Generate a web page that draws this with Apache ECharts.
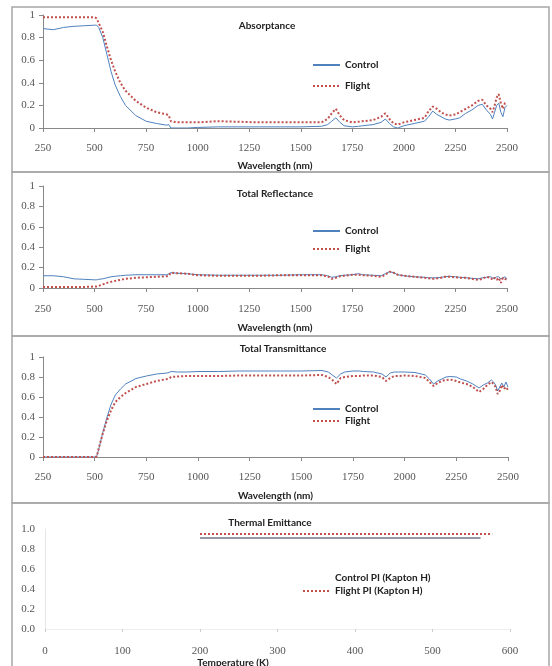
<!DOCTYPE html>
<html>
<head>
<meta charset="utf-8">
<script src="https://cdn.jsdelivr.net/npm/echarts@6/dist/echarts.min.js"></script>
<style>html,body{margin:0;padding:0;background:#fff;}#c{width:552px;height:666px;}</style>
</head>
<body>
<div id="c"></div>
<script>
// Wavelength sample points (nm)
const wavelength = [250,300,350,400,450,500,510,520,540,560,580,600,625,650,700,750,800,850,860,870,900,950,1000,1100,1200,1300,1400,1500,1600,1630,1650,1670,1690,1710,1750,1780,1800,1850,1890,1910,1930,1950,1970,2000,2050,2100,2120,2140,2160,2180,2200,2220,2250,2270,2300,2330,2360,2380,2400,2420,2430,2440,2450,2460,2470,2480,2490,2500];

const absControl = [0.88,0.87,0.89,0.90,0.905,0.91,0.91,0.89,0.80,0.65,0.50,0.38,0.28,0.20,0.11,0.06,0.04,0.025,0.03,0.0,0.0,0.0,0.005,0.01,0.01,0.01,0.01,0.01,0.015,0.03,0.06,0.09,0.05,0.02,0.01,0.015,0.02,0.03,0.05,0.08,0.04,0.01,0.0,0.02,0.04,0.06,0.10,0.15,0.12,0.10,0.08,0.07,0.08,0.09,0.13,0.16,0.20,0.21,0.16,0.12,0.08,0.14,0.20,0.22,0.14,0.10,0.18,0.20];
const absFlight = [0.98,0.98,0.98,0.98,0.98,0.98,0.97,0.93,0.85,0.72,0.60,0.50,0.40,0.33,0.24,0.18,0.14,0.12,0.11,0.06,0.05,0.05,0.05,0.06,0.055,0.05,0.05,0.05,0.05,0.08,0.13,0.17,0.11,0.07,0.05,0.055,0.06,0.07,0.10,0.13,0.08,0.04,0.03,0.05,0.07,0.09,0.15,0.19,0.17,0.14,0.12,0.11,0.12,0.14,0.17,0.20,0.24,0.25,0.20,0.17,0.14,0.20,0.27,0.30,0.22,0.17,0.22,0.23];

const refControl = [0.12,0.12,0.11,0.09,0.085,0.08,0.08,0.085,0.09,0.10,0.11,0.115,0.12,0.125,0.13,0.13,0.13,0.13,0.14,0.15,0.145,0.14,0.13,0.125,0.125,0.125,0.125,0.13,0.13,0.12,0.105,0.11,0.12,0.125,0.13,0.14,0.13,0.125,0.12,0.14,0.16,0.15,0.13,0.12,0.11,0.105,0.10,0.10,0.10,0.105,0.11,0.115,0.11,0.105,0.10,0.095,0.09,0.10,0.105,0.11,0.10,0.09,0.11,0.11,0.09,0.10,0.11,0.09];
const refFlight = [0.01,0.01,0.01,0.01,0.01,0.015,0.015,0.02,0.035,0.05,0.06,0.07,0.08,0.09,0.10,0.105,0.11,0.115,0.12,0.15,0.145,0.14,0.125,0.12,0.12,0.12,0.125,0.125,0.125,0.115,0.09,0.10,0.115,0.12,0.13,0.13,0.125,0.12,0.11,0.13,0.16,0.15,0.13,0.12,0.11,0.10,0.095,0.09,0.095,0.10,0.11,0.11,0.105,0.10,0.10,0.09,0.08,0.09,0.11,0.10,0.08,0.10,0.08,0.10,0.05,0.10,0.09,0.08];

const traControl = [0,0,0,0,0,0,0.005,0.08,0.25,0.40,0.53,0.62,0.68,0.73,0.785,0.81,0.83,0.84,0.845,0.855,0.85,0.85,0.855,0.855,0.86,0.86,0.86,0.86,0.865,0.85,0.82,0.79,0.83,0.85,0.86,0.86,0.855,0.85,0.83,0.80,0.84,0.85,0.85,0.85,0.845,0.82,0.78,0.73,0.76,0.78,0.80,0.805,0.80,0.78,0.76,0.73,0.69,0.72,0.74,0.77,0.75,0.72,0.66,0.70,0.74,0.70,0.75,0.70];
const traFlight = [0,0,0,0,0,0,0.005,0.09,0.24,0.37,0.47,0.55,0.60,0.64,0.70,0.73,0.76,0.78,0.785,0.80,0.805,0.81,0.81,0.81,0.815,0.815,0.815,0.815,0.82,0.80,0.77,0.73,0.79,0.80,0.81,0.81,0.815,0.815,0.80,0.76,0.79,0.81,0.81,0.815,0.81,0.79,0.75,0.71,0.74,0.76,0.77,0.775,0.76,0.745,0.73,0.70,0.65,0.68,0.72,0.75,0.73,0.70,0.63,0.66,0.72,0.68,0.70,0.67];

// Thermal emittance vs temperature (K)
const tempControl = [200,300,400,500,562];
const emitControl = [0.91,0.91,0.91,0.91,0.91];
const tempFlight = [200,300,400,500,577];
const emitFlight = [0.95,0.95,0.95,0.95,0.95];

const pairs = (xs, ys) => xs.map((x, i) => [x, ys[i]]);

const CONTROL = '#4f81bd';
const FLIGHT = '#c0504d';
const TICKFONT = {fontFamily: 'Liberation Serif', fontSize: 11, color: '#555'};
const BOLD = {fontFamily: 'Lato', fontWeight: 'bold', fontSize: 10, color: '#222'};

const grids = [
  {left: 43, right: 45, top: 15, height: 113},
  {left: 43, right: 45, top: 186, height: 102},
  {left: 43, right: 44, top: 357, height: 100},
  {left: 45, right: 42, top: 529, height: 100}
];

function xAx(i, name, gap, margin) {
  return {
    type: 'value', gridIndex: i, min: 250, max: 2500, interval: 250,
    name: name, nameLocation: 'middle', nameGap: gap,
    nameTextStyle: BOLD,
    axisLine: {lineStyle: {color: '#888', width: 1}},
    axisTick: {show: true, length: 4, lineStyle: {color: '#888'}},
    axisLabel: Object.assign({margin: margin, formatter: v => String(v)}, TICKFONT),
    splitLine: {show: false}
  };
}
function yAx(i) {
  return {
    type: 'value', gridIndex: i, min: 0, max: 1, interval: 0.2,
    axisLine: {show: true, lineStyle: {color: '#888', width: 1}},
    axisTick: {show: true, length: 4, lineStyle: {color: '#888'}},
    axisLabel: Object.assign({margin: 8, formatter: v => String(Math.round(v * 10) / 10)}, TICKFONT),
    splitLine: {show: false}
  };
}

const xAxes = [
  xAx(0, 'Wavelength (nm)', 33, 15),
  xAx(1, 'Wavelength (nm)', 35, 16),
  xAx(2, 'Wavelength (nm)', 34, 15),
  {
    type: 'value', gridIndex: 3, min: 0, max: 600, interval: 100,
    axisLine: {show: true, lineStyle: {color: '#eee'}},
    axisTick: {show: true, length: 3, lineStyle: {color: '#ccc'}},
    axisLabel: Object.assign({margin: 17, formatter: v => String(v)}, TICKFONT),
    splitLine: {show: false}
  }
];
const yAxes = [yAx(0), yAx(1), yAx(2), {
  type: 'value', gridIndex: 3, min: 0, max: 1, interval: 0.2,
  axisLine: {show: true, lineStyle: {color: '#e6e6e6'}},
  axisTick: {show: false},
  axisLabel: Object.assign({margin: 10, formatter: v => v.toFixed(1)}, TICKFONT),
  splitLine: {show: false}
}];

function ctl(name, i, data, color, w) {
  return {name: name, type: 'line', xAxisIndex: i, yAxisIndex: i, data: data, symbol: 'none', showSymbol: false,
    lineStyle: {color: color, width: w || 1}, itemStyle: {color: color}};
}
function flt(name, i, data) {
  return {name: name, type: 'line', xAxisIndex: i, yAxisIndex: i, data: data, symbol: 'none', showSymbol: false,
    lineStyle: {color: FLIGHT, width: 2, type: [2, 2]}, itemStyle: {color: FLIGHT}};
}

const series = [
  ctl('Control', 0, pairs(wavelength, absControl), CONTROL),
  flt('Flight', 0, pairs(wavelength, absFlight)),
  ctl('Control ', 1, pairs(wavelength, refControl), CONTROL),
  flt('Flight ', 1, pairs(wavelength, refFlight)),
  ctl('Control  ', 2, pairs(wavelength, traControl), CONTROL),
  flt('Flight  ', 2, pairs(wavelength, traFlight)),
  ctl('Control PI (Kapton H)', 3, pairs(tempControl, emitControl), '#2b3350', 1.2),
  flt('Flight PI (Kapton H)', 3, pairs(tempFlight, emitFlight))
];

function leg(names, left, top, gap, hideFirst) {
  return {
    show: true, type: 'plain',
    orient: 'vertical', left: left, top: top, itemWidth: 27, itemHeight: 12, itemGap: gap,
    padding: 0, textStyle: BOLD, selectedMode: false,
    itemStyle: {opacity: 0},
    data: names.map((n, k) => (hideFirst && k === 0)
      ? {name: n, lineStyle: {opacity: 0}, itemStyle: {opacity: 0}}
      : {name: n}),
    formatter: n => n.trim()
  };
}

const titles = [
  {text: 'Absorptance', left: 267, top: 21},
  {text: 'Total Reflectance', left: 275, top: 189},
  {text: 'Total Transmittance', left: 283, top: 344},
  {text: 'Thermal Emittance', left: 270, top: 518},
  {text: 'Temperature (K)', left: 233, top: 658}
].map(t => Object.assign(t, {textAlign: 'center', padding: 0, textStyle: BOLD}));

const borders = [[7, 172], [172, 336], [336, 503], [503, 672]].map(b => ({
  type: 'rect', silent: true,
  shape: {x: 12, y: b[0], width: 537, height: b[1] - b[0]},
  style: {fill: 'none', stroke: '#a6a6a6', lineWidth: 1.5}
}));

const chart = echarts.init(document.getElementById('c'), null, {renderer: 'canvas'});
chart.setOption({
  animation: false,
  backgroundColor: '#fff',
  title: titles,
  grid: grids,
  xAxis: xAxes,
  yAxis: yAxes,
  legend: [
    leg(['Control', 'Flight'], 312, 60, 11),
    leg(['Control ', 'Flight '], 312, 226, 8),
    leg(['Control  ', 'Flight  '], 312, 404, 2),
    leg(['Control PI (Kapton H)', 'Flight PI (Kapton H)'], 302, 573, 3, true)
  ],
  series: series,
  graphic: borders
});
</script>
</body>
</html>
